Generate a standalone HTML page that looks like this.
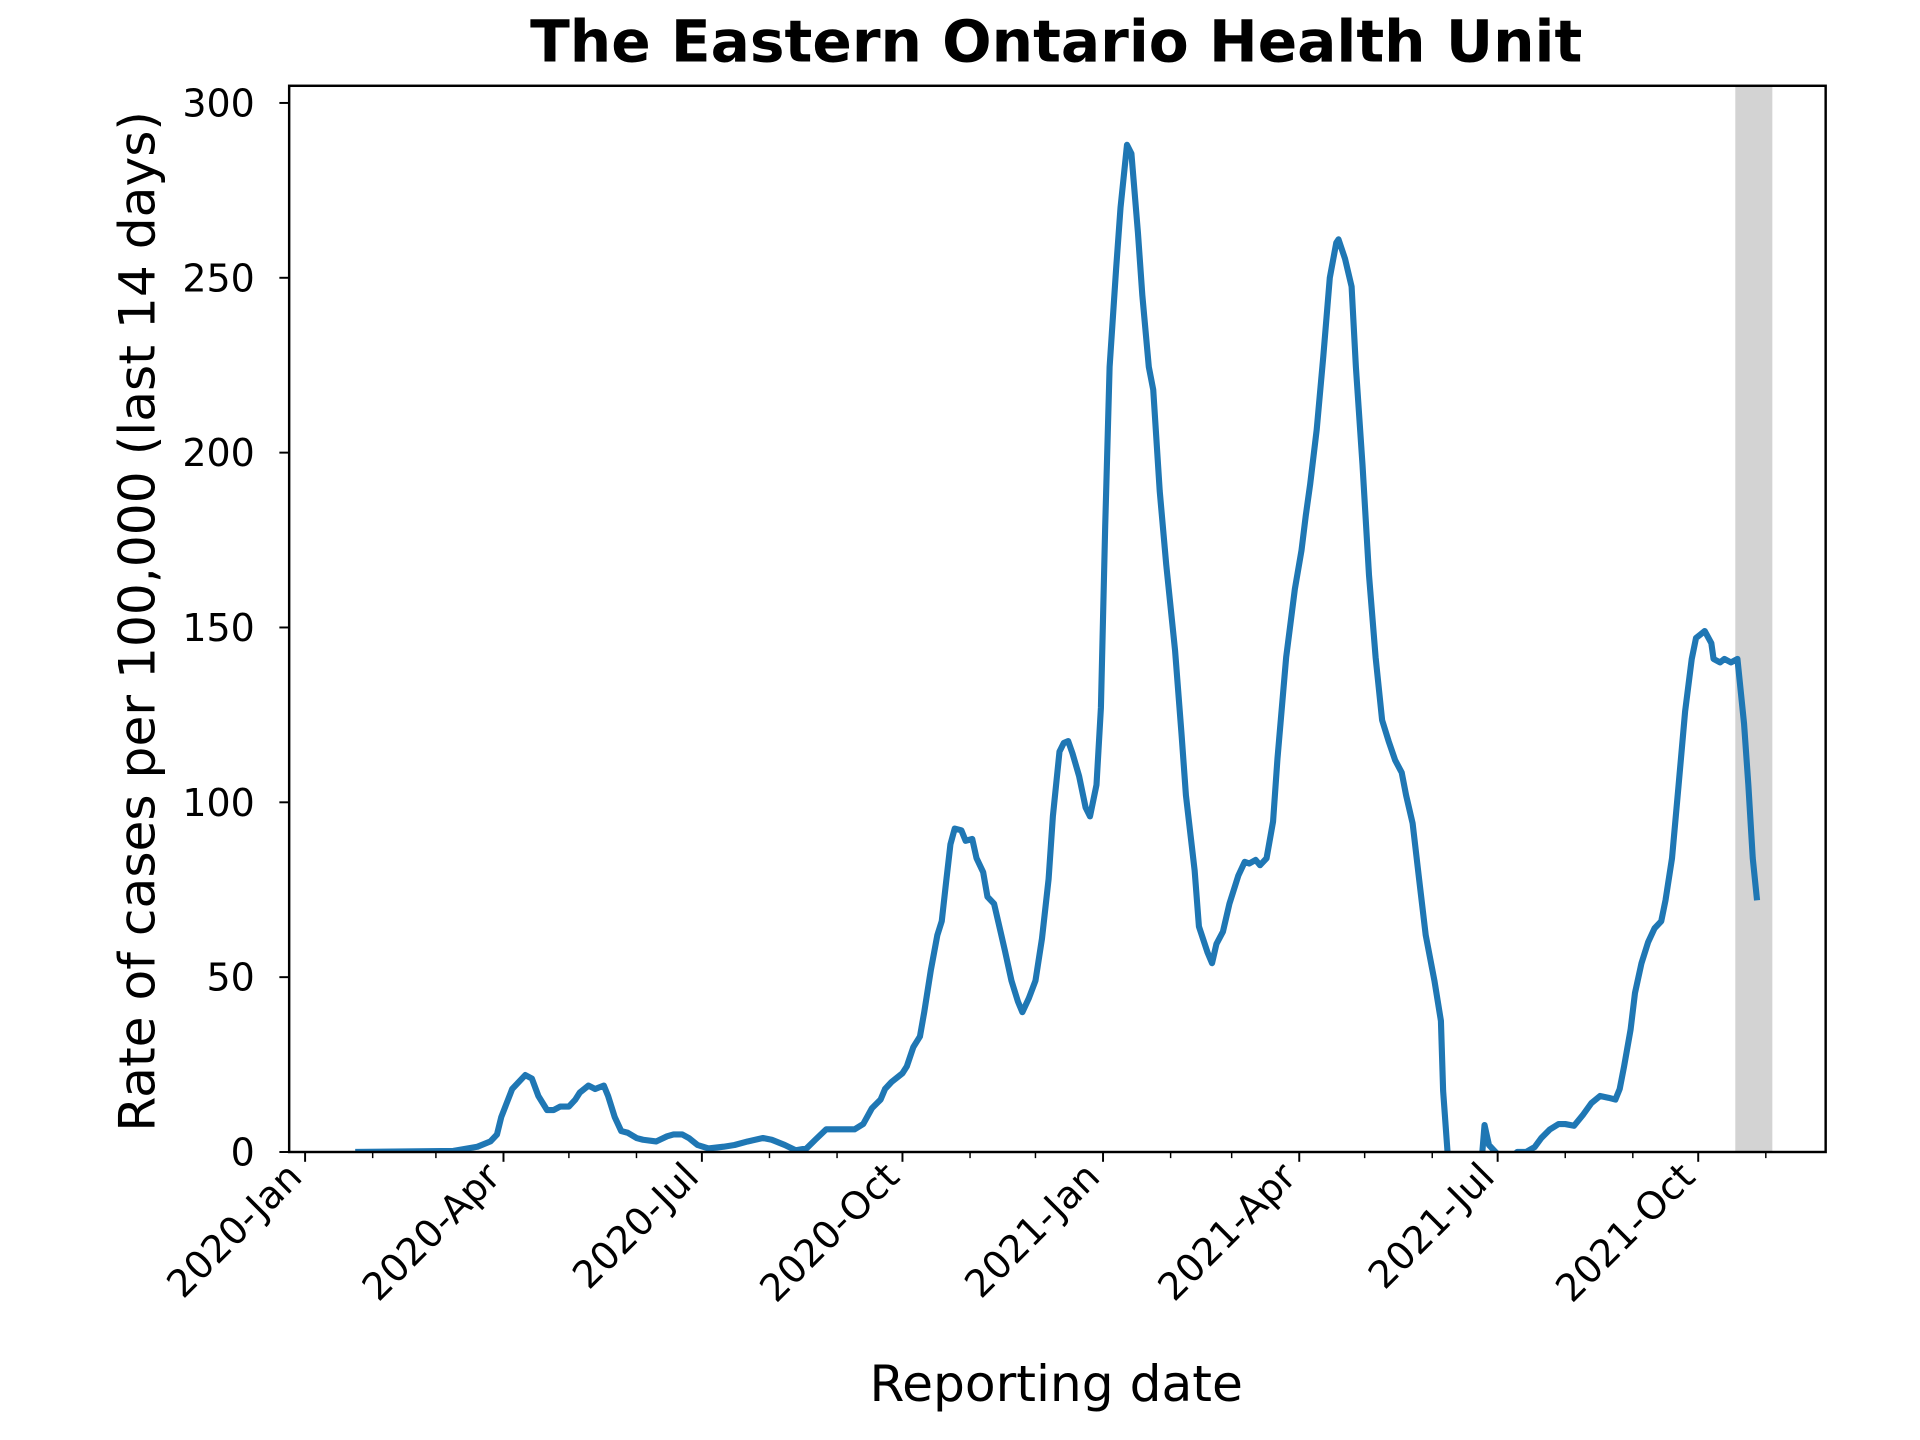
<!DOCTYPE html>
<html><head><meta charset="utf-8"><style>html,body{margin:0;padding:0;background:#fff}svg{display:block}</style></head>
<body>
<svg id="chart" width="1920" height="1440" viewBox="0 0 1567 1175" preserveAspectRatio="none" xmlns="http://www.w3.org/2000/svg" font-family="'DejaVu Sans', 'Liberation Sans', sans-serif">
<rect width="1567" height="1175" fill="#fff"/>
<text x="862" y="50" text-anchor="middle" font-size="47.5" font-weight="bold">The Eastern Ontario Health Unit</text>
<text transform="translate(126,507) rotate(-90)" text-anchor="middle" font-size="41">Rate of cases per 100,000 (last 14 days)</text>
<text x="862" y="1143" text-anchor="middle" font-size="41">Reporting date</text>
<defs><clipPath id="plotclip"><rect x="236" y="70" width="1254" height="870"/></clipPath></defs>
<g id="shade"></g>
<g id="series" clip-path="url(#plotclip)"></g>
<rect x="236" y="70" width="1254" height="870" fill="none" stroke="#000" stroke-width="2"/>
<g id="yaxis"></g>
<g id="xaxis"></g>
</svg>
<script>
const yTicks = [0, 50, 100, 150, 200, 250, 300];
const xTickLabels = ["2020-Jan","2020-Apr","2020-Jul","2020-Oct","2021-Jan","2021-Apr","2021-Jul","2021-Oct"];
const xTickDays = [0, 91, 182, 274, 366, 456, 547, 639];
const minorDays = [31, 60, 121, 152, 213, 244, 305, 335, 397, 425, 486, 517, 578, 609, 670];
const shadeDays = [656, 673];
const days = [23,68,79,85,88,90,95,101,104,107,111,114,117,121,124,126,130,133,137,139,142,145,148,152,155,161,166,169,173,176,180,185,192,197,203,210,214,220,225,230,234,239,245,248,252,256,260,264,266,269,274,276,279,282,284,287,290,292,294,296,298,301,303,306,308,311,313,316,319,321,324,327,329,332,335,338,341,343,346,348,350,352,355,358,360,363,365,367,369,372,374,377,379,382,384,387,389,392,395,399,402,404,408,410,414,416,418,421,424,428,431,433,436,438,441,444,446,450,454,457,459,461,464,467,470,473,474,477,480,482,485,488,491,494,497,500,503,505,508,511,514,518,521,522,524,526,537,540,541,543,546,551,556,560,564,567,571,575,578,582,586,590,594,598,601,603,605,608,610,613,616,619,622,624,627,630,633,636,638,640,642,645,646,649,651,654,657,660,662,664,666];
const rates = [0,0.3,1.5,3,5,10,18,22,21,16,12,12,13,13,15,17,19,18,19,16,10,6,5.5,4,3.5,3,4.5,5,5,4,2,1,1.5,2,3,4,3.5,2,0.5,1,3.5,6.5,6.5,6.5,6.5,8,12.5,15,18,20,22.5,24.5,30,33,40,52,62,66,77,88,92.5,92,89,89.5,84,80,73,71,63,57.5,49,43,40,44,49,61,78,96,114.5,117,117.5,114,107.5,98.5,96,105,127,179,224.5,252.5,270,288,285.5,263,245,224.5,218,189,168,143.5,119.5,102,80.5,64.5,57,54,59.5,63,71,79,83,82.5,83.5,82,84,94.5,112.5,141.5,161,172,182,191,206.5,227.5,250,260,261,255.5,247.5,224.5,196.5,165,141.5,123.5,117.5,112,108.5,102,94,78,62,49,37.5,17.5,0,-7,-7,0,7.7,2,0,-3,0,0,1.4,4,6.5,8,8,7.5,10.5,14,16,15.5,15,18,24.5,35,45.5,54,60,64,66,72,84,105,126,141,147,148,149,145.5,141,140,141,140,141,122.5,105,84,72];
const NS = "http://www.w3.org/2000/svg";
function xS(d){ return 249 + d * (1386 - 249) / 639; }
function yS(v){ return 940 - v * (940 - 84) / 300; }
function mk(tag, attrs, parent){ const e = document.createElementNS(NS, tag); for (const k in attrs) e.setAttribute(k, attrs[k]); parent.appendChild(e); return e; }
const shade = document.getElementById('shade');
const band = mk('rect', {x: xS(shadeDays[0]), y: 70, width: xS(shadeDays[1]) - xS(shadeDays[0]), height: 870, fill: '#d3d3d3'}, shade);


const ya = document.getElementById('yaxis');
yTicks.forEach(v => {
  const t = mk('line', {x1: 228, x2: 236, y1: yS(v), y2: yS(v), stroke: '#000', 'stroke-width': 1.6}, ya);
  
  
  const l = mk('text', {x: 208, y: yS(v) + 11, 'text-anchor': 'end', 'font-size': 31}, ya);
  l.textContent = v;
  
  
});
const xa = document.getElementById('xaxis');
xTickDays.forEach((d, i) => {
  const x = xS(d);
  const t = mk('line', {x1: x, x2: x, y1: 940, y2: 948, stroke: '#000', 'stroke-width': 1.6}, xa);
  
  
  const l = mk('text', {transform: `translate(${x - 1},${962}) rotate(-45)`, 'text-anchor': 'end', 'font-size': 31}, xa);
  l.textContent = xTickLabels[i];
  
  
});
minorDays.forEach(d => {
  const x = xS(d);
  const t = mk('line', {x1: x, x2: x, y1: 940, y2: 945, stroke: '#000', 'stroke-width': 1.2}, xa);
  
  
});
const pts = days.map((d, i) => xS(d).toFixed(1) + ',' + yS(rates[i]).toFixed(1)).join(' ');
const line = mk('polyline', {points: pts, fill: 'none', stroke: '#1f77b4', 'stroke-width': 5, 'stroke-linejoin': 'round'}, document.getElementById('series'));


</script>
</body></html>
